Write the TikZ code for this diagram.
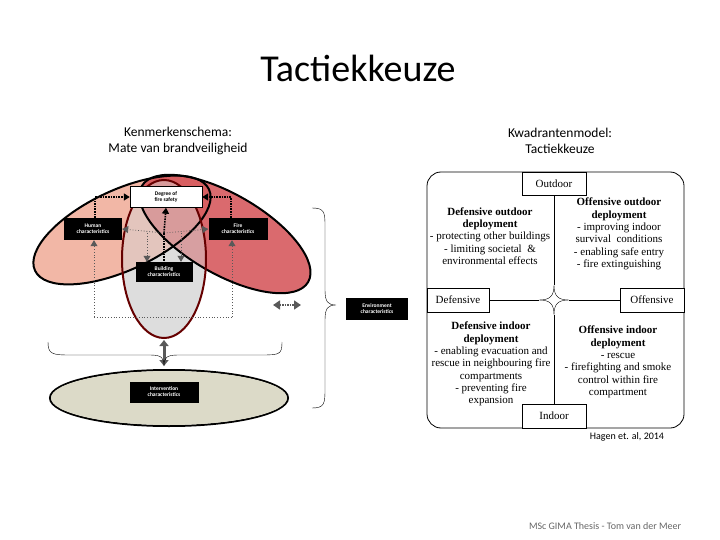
\documentclass[tikz,border=0pt]{standalone}
\usepackage{fontspec}
\setmainfont{Carlito}
\newfontfamily\tms{Liberation Serif}
\usetikzlibrary{arrows.meta}
\begin{document}
\begin{tikzpicture}[x=1pt,y=-1pt,
 bbox/.style={fill=black,text=white,font=\fontsize{5.5}{6}\selectfont\bfseries,align=center,inner sep=1pt},
 qbox/.style={draw=black,fill=white,font=\tms\fontsize{11}{12}\selectfont,inner sep=0pt},
 qtxt/.style={font=\tms\fontsize{11}{12.3}\selectfont,align=center},
 dk/.style={densely dotted,line width=1.6pt,-{Triangle[length=6pt,width=7pt]}},
 gr/.style={dotted,thick,gray!70!black,-{Triangle[length=6pt,width=7pt]}},
 ell/.style={line width=2pt,draw=black}]
\useasboundingbox (0,0) rectangle (720,540);
\node[font=\fontsize{38}{40}\selectfont] (title) at (358,68) {Tactiekkeuze};
\node[align=center,font=\fontsize{13.5}{16}\selectfont] (s1) at (178,141) {Kenmerkenschema:\\Mate van brandveiligheid};
\node[align=center,font=\fontsize{13.5}{16}\selectfont] (s2) at (560,141) {Kwadrantenmodel:\\Tactiekkeuze};
% ellipses
\fill[fill=white!60!gray,fill opacity=0.6] (164,259) ellipse [x radius=42,y radius=79];
\fill[fill={rgb,255:red,240;green,170;blue,150},fill opacity=0.85] (122,230) ellipse [x radius=96,y radius=40,rotate=25];
\fill[fill={rgb,255:red,212;green,80;blue,85},fill opacity=0.85] (225,234) ellipse [x radius=96,y radius=40,rotate=-30];
\fill[fill=white!70!gray,fill opacity=0.5] (164,259) ellipse [x radius=42,y radius=79];
\draw[ell] (122,230) ellipse [x radius=96,y radius=40,rotate=25];
\draw[ell] (225,234) ellipse [x radius=96,y radius=40,rotate=-30];
\draw[ell,draw=black!60!red] (164,259) ellipse [x radius=42,y radius=79];
\draw[ell] (169,398) ellipse [x radius=119,y radius=28];
\fill[fill={rgb,255:red,220;green,218;blue,200}] (169,398) ellipse [x radius=118,y radius=27];
% boxes
\node[draw,fill=white,minimum width=72pt,minimum height=21pt,align=center,font=\fontsize{5.5}{6}\selectfont\bfseries,inner sep=0pt] (deg) at (166,197) {Degree of\\fire safety};
\node[bbox,minimum width=58pt,minimum height=22pt] (hum) at (93,229) {Human\\characteristics};
\node[bbox,minimum width=59pt,minimum height=22pt] (fir) at (238,229) {Fire\\characteristics};
\node[bbox,minimum width=57pt,minimum height=20pt] (bld) at (164,272) {Building\\characteristics};
\node[bbox,minimum width=62pt,minimum height=22pt] (env) at (377,309) {Environment\\characteristics};
\node[bbox,minimum width=69pt,minimum height=21pt] (int) at (164,392) {Intervention\\characteristics};
% dotted connectors
\coordinate (c) at (164,233);
\coordinate (r1) at (94,317); \coordinate (r2) at (232,317);
\draw[dotted,thick,gray!70!black] (r1) -- (r2);
\draw[gr] (r1) -- (hum.south -| r1);
\draw[gr] (r2) -- (fir.south -| r2);
\draw[dk] (hum.north -| 95,0) |- (deg.west);
\draw[dk] (fir.north -| 231,0) |- (deg.east);
\draw[dk] (c) -- (deg.south);
\draw[gr] (c) -- (hum.east);
\draw[gr] (c) -- (fir.west);
\draw[dk,-] (c) -- (bld.north);
\draw[gr] (147,233) -- (bld.north -| 147,0);
\draw[gr] (181,233) -- (bld.north -| 181,0);
\coordinate (ga) at (164,340); \coordinate (gb) at (164,366);
\draw[gray!70!black,line width=3pt,{Triangle[length=6pt,width=9pt]}-{Triangle[length=6pt,width=9pt]}] (ga) -- (gb);
\coordinate (ea) at (273,305); \coordinate (eb) at (301,305);
\draw[gray!70!black,densely dotted,line width=1.5pt,{Triangle[length=7pt,width=9pt]}-{Triangle[length=7pt,width=9pt]}] (ea) -- (eb);
% braces
\draw[thin] (48,342) .. controls (48,354) and (52,355) .. (70,355) -- (150,355) .. controls (162,355) and (164,358) .. (164,366) .. controls (164,358) and (166,355) .. (178,355) -- (262,355) .. controls (280,355) and (282,354) .. (282,342);
\draw[thin] (312,208) .. controls (324,208) and (325,212) .. (325,225) -- (325,290) .. controls (325,302) and (328,305) .. (336,305) .. controls (328,305) and (325,308) .. (325,320) -- (325,390) .. controls (325,404) and (324,408) .. (312,408);
% quadrant model
\draw[thick,rounded corners=14pt] (427,172) rectangle (684,428);
\coordinate (m) at (554,300);
\node[qbox,minimum width=64pt,minimum height=23pt] (out) at (554,184) {Outdoor};
\node[qbox,minimum width=62pt,minimum height=24pt] (def) at (458,300) {Defensive};
\node[qbox,minimum width=64pt,minimum height=24pt] (off) at (652,300) {Offensive};
\node[qbox,minimum width=64pt,minimum height=24pt] (ind) at (554,416) {Indoor};
\draw[thin] (out.south) -- (554,285);
\draw[thin] (ind.north) -- (554,315);
\draw[thin] (def.east) -- (539,300);
\draw[thin] (off.west) -- (569,300);
\draw[thin] (554,285) .. controls (554,296) and (558,300) .. (569,300) .. controls (558,300) and (554,304) .. (554,315) .. controls (554,304) and (550,300) .. (539,300) .. controls (550,300) and (554,296) .. (554,285);
\node[qtxt] (q1) at (490,236) {\textbf{Defensive outdoor}\\\textbf{deployment}\\- protecting other buildings\\- limiting societal \ \&\\environmental effects};
\node[qtxt] (q2) at (619,234) {\textbf{Offensive outdoor}\\\textbf{deployment}\\- improving indoor\\survival \ conditions\\- enabling safe entry\\- fire extinguishing};
\node[qtxt] (q3) at (491,364) {\textbf{Defensive indoor}\\\textbf{deployment}\\- enabling evacuation and\\rescue in neighbouring fire\\compartments\\- preventing fire\\expansion};
\node[qtxt] (q4) at (618,362) {\textbf{Offensive indoor}\\\textbf{deployment}\\- rescue\\- firefighting and smoke\\control within fire\\compartment};
\node[font=\fontsize{10}{11}\selectfont] (ref) at (627,437) {Hagen et. al, 2014};
\node[font=\fontsize{10}{11}\selectfont,text=gray!80!black] (foot) at (605,526) {MSc GIMA Thesis - Tom van der Meer};
\end{tikzpicture}
\end{document}
